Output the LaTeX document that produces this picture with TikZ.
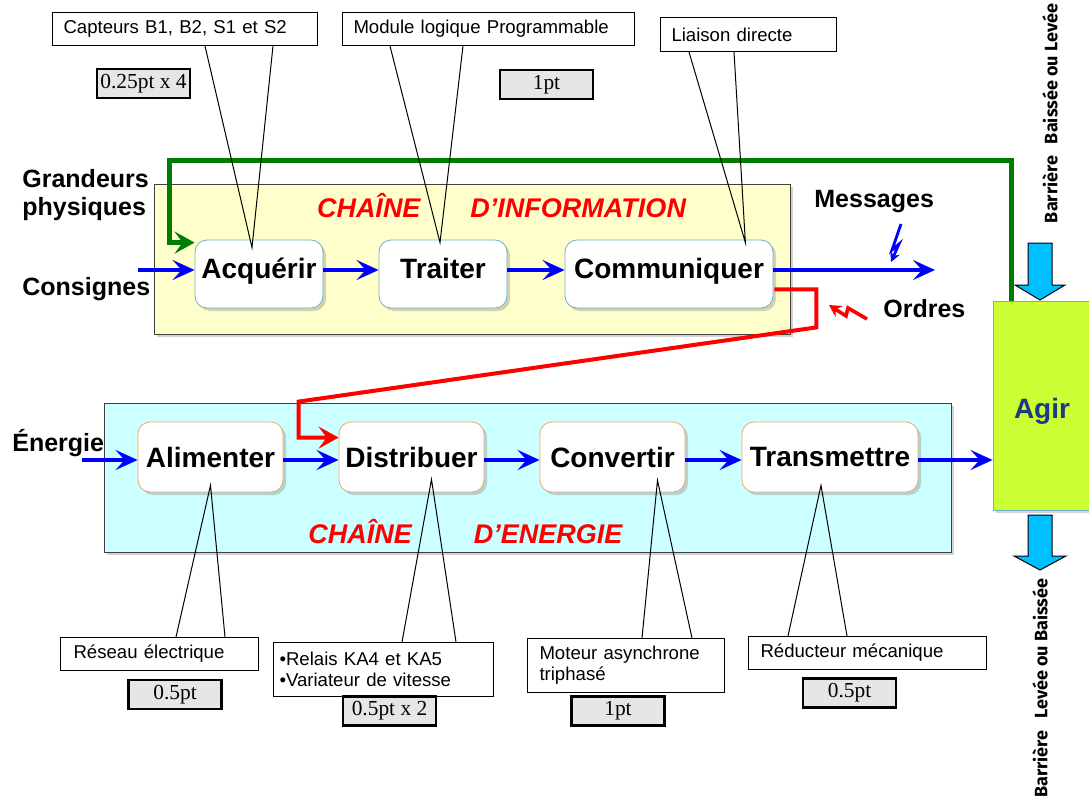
\documentclass[tikz,border=0pt]{standalone}
\usepackage{fontspec}
\setmainfont{Liberation Sans}
\newfontfamily\timesfont{Liberation Serif}
\newfontfamily\rondfont{Fira Sans}
\usetikzlibrary{arrows.meta,calc,shadows}
\definecolor{jaunepale}{HTML}{FFFFCC}
\definecolor{cyanpale}{HTML}{CCFFFF}
\definecolor{bordbleu}{HTML}{6AAFCB}
\definecolor{bordorange}{HTML}{F0A868}
\definecolor{vertfonce}{HTML}{007D00}
\definecolor{vertagir}{HTML}{CCFF33}
\definecolor{bleuagir}{HTML}{1B3A80}
\definecolor{cielbleu}{HTML}{00BFFF}
\definecolor{grisclair}{HTML}{E6E6E6}

\tikzset{
  ombre/.style={drop shadow={opacity=0.35,shadow xshift=1.5pt,shadow yshift=-1.5pt}},
  fonction/.style={rounded corners=6pt, fill=white, ombre, font=\fontsize{14}{16}\selectfont\bfseries, minimum height=34pt, inner sep=0pt},
  infobox/.style={fonction, draw=bordbleu, text height=10pt, text depth=6pt},
  enerbox/.style={fonction, draw=bordorange, minimum height=35pt},
  chaine/.style={draw=black!75, ombre, inner sep=0pt},
  bulle/.style={draw, fill=white, line width=0.5pt, anchor=north west, align=left, inner xsep=5.5pt, inner ysep=0pt, font=\fontsize{9.3}{10.5}\selectfont, minimum height=16.5pt},
  poids/.style={draw, line width=1.1pt, fill=grisclair, minimum width=46.5pt, minimum height=14.5pt, inner sep=0pt, font=\timesfont\fontsize{10.7}{12}\selectfont},
  etiq/.style={inner sep=0pt, font=\fontsize{12.5}{14}\selectfont\bfseries},
  titre/.style={text=red, font=\fontsize{13.5}{15}\selectfont\bfseries\itshape},
  barriere/.style={rotate=90, font=\rondfont\fontsize{9}{10}\selectfont\bfseries},
  fin/.style={line width=0.5pt},
  fleche/.style={blue, line width=1.8pt, -{Stealth[length=11pt,width=10pt,inset=4.5pt]}},
  ordre/.style={red, line width=2pt, line join=miter, -{Stealth[length=10pt,width=11pt,inset=4pt]}},
  retour/.style={vertfonce, line width=2.2pt, line join=miter, -{Stealth[length=10pt,width=11pt,inset=4pt]}},
  bloc/.style={draw=black, fill=cielbleu, line width=0.5pt}
}

\begin{document}
\begin{tikzpicture}[x=0.5pt,y=-0.5pt]
  \useasboundingbox (0,0) rectangle (1089,798);

  % chaine d'information
  \node[chaine, fill=jaunepale, minimum width=318pt, minimum height=75pt] (chinfo) at (472,259) {};
  \node[titre] (titinfo) at (501.5,206) {CHAÎNE\hspace{25pt}D’INFORMATION};
  \node[infobox, minimum width=64pt] (acq) at (259,274) {Acquérir};
  \node[infobox, minimum width=64pt] (tra) at (443,274) {Traiter};
  \node[infobox, minimum width=104pt] (com) at (669,274) {Communiquer};

  % chaine d'energie
  \node[chaine, fill=cyanpale, minimum width=423.5pt, minimum height=74.5pt] (chener) at (527.5,477.5) {};
  \node[titre] (titener) at (465.5,532) {CHAÎNE\hspace{31pt}D’ENERGIE};
  \node[enerbox, minimum width=72.5pt] (ali) at (210.5,457) {Alimenter};
  \node[enerbox, minimum width=72.5pt] (dis) at (411.5,457) {Distribuer};
  \node[enerbox, minimum width=72.5pt] (con) at (612.5,457) {Convertir};
  \node[enerbox, minimum width=88pt] (trm) at (830,457) {Transmettre};

  % agir
  \node[draw=bordbleu, fill=vertagir, ombre, minimum width=49pt, minimum height=104.5pt, inner sep=0pt,
        text height=13pt, text depth=0.5pt, text=bleuagir, font=\fontsize{14}{16}\selectfont\bfseries] (agir) at (1042,405.5) {Agir};
  \filldraw[bloc] (1028,243) -- (1052,243) -- (1052,285) -- (1065,285) -- (1040,300) -- (1015,285) -- (1028,285) -- cycle;
  \filldraw[bloc] (1028,515) -- (1052,515) -- (1052,556) -- (1066,556) -- (1040,570) -- (1014,556) -- (1028,556) -- cycle;
  \node[barriere] (bhaut) at (1050,113.5) {Barrière\hspace{6pt}Baissée ou Levée};
  \node[barriere] (bbas) at (1040,688) {Barrière\hspace{6pt}Levée ou Baissée};

  % entrees et sorties
  \node[etiq, anchor=north west, align=left] (grand) at (22,169) {Grandeurs\\physiques};
  \node[etiq, anchor=base west] (consi) at (22,295) {Consignes};
  \node[etiq, anchor=base west] (ener) at (12,451) {Énergie};
  \node[etiq, anchor=base west] (mess) at (814,207) {Messages};
  \node[etiq, anchor=base west] (ordr) at (883,317) {Ordres};
  \coordinate (entcons) at (138,270);
  \coordinate (entener) at (82,460);
  \coordinate (sortmess) at (935,270);

  % fleches bleues
  \draw[fleche] (entcons) -- ([yshift=2pt]acq.west);
  \draw[fleche] ([yshift=2pt]acq.east) -- ([yshift=2pt]tra.west);
  \draw[fleche] ([yshift=2pt]tra.east) -- ([yshift=2pt]com.west);
  \draw[fleche] ([yshift=2pt]com.east) -- (sortmess);
  \draw[fleche] (entener) -- ([yshift=-1.5pt]ali.west);
  \draw[fleche] ([yshift=-1.5pt]ali.east) -- ([yshift=-1.5pt]dis.west);
  \draw[fleche] ([yshift=-1.5pt]dis.east) -- ([yshift=-1.5pt]con.west);
  \draw[fleche] ([yshift=-1.5pt]con.east) -- ([yshift=-1.5pt]trm.west);
  \draw[fleche] ([yshift=-1.5pt]trm.east) -- ([yshift=-1.5pt]trm.east -| agir.west);

  % retour et ordres
  \draw[retour] ($(agir.north west)+(19,0)$) -- ++(0,-140) -| ($(acq.north west)+(-25,3)$) -- ($(acq.north west)+(0,3)$);
  \draw[ordre] ($(com.south east)+(1,-19)$) -- ++(42,0) -- ++(0,38) -- ($(dis.north west)+(-40,-20)$) |- ($(dis.north west)+(0,16)$);
  \draw[blue, line width=1.4pt, line join=miter, -{Stealth[length=5pt,width=5pt]}] (901,224) -- (892,250) -- (899,244) -- (891,262);
  \draw[red, line width=1.8pt, line join=miter, -{Stealth[length=6pt,width=6.5pt]}] (867,319) -- (848,308) -- (846,316) -- (829,305);

  % bulles du haut
  \node[bulle, text width=121.5pt] (capt) at (52,12) {Capteurs B1, B2, S1 et S2};
  \node[bulle, text width=135pt] (modl) at (342,12) {Module logique Programmable};
  \node[bulle, text width=77pt, minimum height=17pt] (liai) at (660,17) {Liaison directe};
  \draw[fin] ($(capt.south west)+(153,0)$) -- ($(acq.north)+(-7,8)$) -- ($(capt.south west)+(221,0)$);
  \draw[fin] ($(modl.south west)+(48,0)$) -- ($(tra.north)+(-3,3)$) -- ($(modl.south west)+(121,0)$);
  \draw[fin] ($(liai.south west)+(29,0)$) -- ($(com.north east)+(-28,3)$) -- ($(liai.south west)+(74,0)$);
  \node[poids] (p1) at (143.5,83.5) {0.25pt x 4};
  \node[poids] (p2) at (546.5,84.5) {1pt};

  % bulles du bas
  \node[bulle, text width=86pt, inner xsep=6.5pt] (rese) at (60,637) {Réseau électrique};
  \node[bulle, text width=104pt, inner xsep=3pt, minimum height=27pt] (rela) at (273,642) {•Relais KA4 et KA5\\•Variateur de vitesse};
  \node[bulle, text width=86.5pt, inner xsep=6pt, minimum height=27pt] (mote) at (527,638) {Moteur asynchrone\\triphasé};
  \node[bulle, text width=107pt, inner xsep=6pt] (redu) at (748,636) {Réducteur mécanique};
  \draw[fin] ($(rese.north west)+(116,0)$) -- ($(ali.south)+(0,-7)$) -- ($(rese.north west)+(165,0)$);
  \draw[fin] ($(rela.north west)+(129,0)$) -- ($(dis.south)+(20,-13)$) -- ($(rela.north west)+(183,0)$);
  \draw[fin] ($(mote.north west)+(115,0)$) -- ($(con.south)+(45,-12)$) -- ($(mote.north west)+(165,0)$);
  \draw[fin] ($(redu.north west)+(40,0)$) -- ($(trm.south)+(-9,-7)$) -- ($(redu.north west)+(99,0)$);
  \node[poids] (p3) at (175,694.5) {0.5pt};
  \node[poids] (p4) at (389.5,711) {0.5pt x 2};
  \node[poids] (p5) at (618,711) {1pt};
  \node[poids] (p6) at (849.5,693) {0.5pt};
\end{tikzpicture}
\end{document}
